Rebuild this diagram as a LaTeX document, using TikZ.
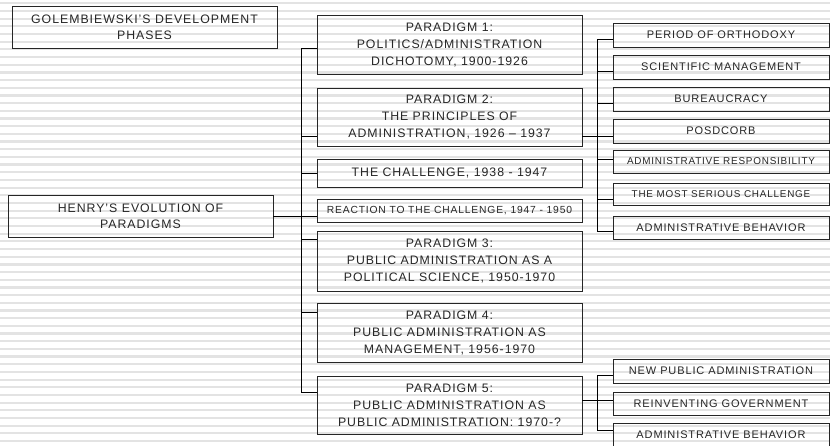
\documentclass[tikz,border=0pt]{standalone}
\usepackage{fontspec}
\setmainfont{Liberation Sans}[LetterSpace=8]
\usepackage{tikz}

\tikzset{
	stripe/.style={draw=black!11, line width=2.2pt},
	box/.style={draw=black!85, line width=0.9pt, inner sep=0pt, align=center, text=black!85, font=\fontsize{12.3}{17}\selectfont},
	mid/.style={box, minimum width=265pt},
	sub/.style={box, minimum width=216pt, minimum height=24pt, font=\fontsize{11}{12}\selectfont},
	tiny/.style={font=\fontsize{9.9}{11}\selectfont},
	link/.style={draw=black, line width=0.9pt}
}

\begin{document}
\begin{tikzpicture}[x=1pt, y=-1pt]
\useasboundingbox (0,0) rectangle (830,445);
\clip (0,0) rectangle (830,445);
\foreach \i in {0,...,57}
	\draw[stripe] (0,3.3+7.68*\i) -- (830,3.3+7.68*\i);

\node[box, minimum width=265pt, minimum height=42pt, font=\fontsize{12.3}{16}\selectfont] (0) at (144.5,27){GOLEMBIEWSKI'S DEVELOPMENT\\PHASES};
\node[box, minimum width=265pt, minimum height=42pt, font=\fontsize{12.3}{16}\selectfont] (1) at (140.5,216){HENRY'S EVOLUTION OF\\PARADIGMS};

\node[mid, minimum height=59pt] (2) at (449.5,44.5){PARADIGM 1:\\POLITICS/ADMINISTRATION\\DICHOTOMY, 1900-1926};
\node[mid, minimum height=58pt] (3) at (449.5,117){PARADIGM 2:\\THE PRINCIPLES OF\\ADMINISTRATION, 1926 -- 1937};
\node[mid, minimum height=28pt] (4) at (449.5,173){THE CHALLENGE, 1938 - 1947};
\node[mid, minimum height=23pt, font=\fontsize{10.3}{11}\selectfont] (5) at (449.5,210.5){REACTION TO THE CHALLENGE, 1947 - 1950};
\node[mid, minimum height=60pt] (6) at (449.5,261){PARADIGM 3:\\PUBLIC ADMINISTRATION AS A\\POLITICAL SCIENCE, 1950-1970};
\node[mid, minimum height=59pt] (7) at (449.5,332.5){PARADIGM 4:\\PUBLIC ADMINISTRATION AS\\MANAGEMENT, 1956-1970};
\node[mid, minimum height=58pt] (8) at (449.5,405){PARADIGM 5:\\PUBLIC ADMINISTRATION AS\\PUBLIC ADMINISTRATION: 1970-?};

\node[sub] (9) at (721,35){PERIOD OF ORTHODOXY};
\node[sub] (10) at (721,67){SCIENTIFIC MANAGEMENT};
\node[sub] (11) at (721,99){BUREAUCRACY};
\node[sub] (12) at (721,131){POSDCORB};
\node[sub, tiny, minimum height=23pt] (13) at (721,161.5){ADMINISTRATIVE RESPONSIBILITY};
\node[sub, tiny, minimum height=22pt] (14) at (721,194){THE MOST SERIOUS CHALLENGE};
\node[sub, minimum height=23pt] (15) at (721,227.5){ADMINISTRATIVE BEHAVIOR};
\node[sub] (16) at (721,371){NEW PUBLIC ADMINISTRATION};
\node[sub, minimum height=23pt] (17) at (721,403.5){REINVENTING GOVERNMENT};
\node[sub] (18) at (721,435){ADMINISTRATIVE BEHAVIOR};

% henry -> paradigms
\draw[link] (301,48) -- (301,392);
\draw[link] (1.east) -- (1.east -| 5.west);
\foreach \n/\y in {2/48,3/136,4/173,6/239,7/312,8/392}
	\draw[link] (301,\y) -- (\n.west |- 0,\y);

% paradigm 2 -> themes
\draw[link] (3.east |- 0,136) -- (597,136);
\draw[link] (597,39) -- (597,231);
\foreach \n/\y in {9/39,10/71,11/103,12/136,13/159,14/199,15/231}
	\draw[link] (597,\y) -- (\n.west |- 0,\y);

% paradigm 5 -> themes
\draw[link] (8.east |- 0,400) -- (597,400);
\draw[link] (597,375) -- (597,430);
\foreach \n/\y in {16/375,17/400,18/430}
	\draw[link] (597,\y) -- (\n.west |- 0,\y);
\end{tikzpicture}
\end{document}
